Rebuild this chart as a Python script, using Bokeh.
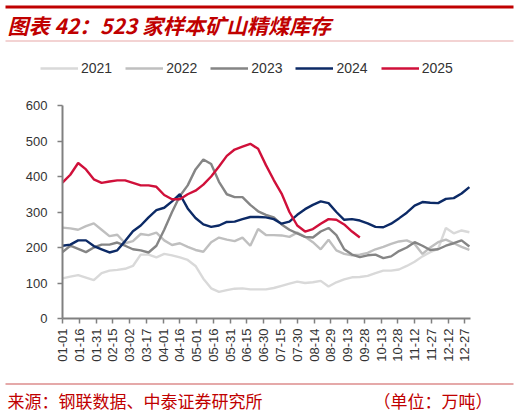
import numpy as np
from bokeh.plotting import figure
from bokeh.models import Range1d, FixedTicker, Legend, LegendItem
from bokeh.core.properties import value
from bokeh.layouts import column
from bokeh.embed import file_html
from bokeh.resources import INLINE

# weekly points, day of year
days = np.arange(1, 366, 7)

tick_days = list(range(1, 362, 15))
tick_labels = ['01-01', '01-16', '01-31', '02-15', '03-02', '03-17', '04-01',
               '04-16', '05-01', '05-16', '05-31', '06-15', '06-30', '07-15',
               '07-30', '08-14', '08-29', '09-13', '09-28', '10-13', '10-28',
               '11-12', '11-27', '12-12', '12-27']

y2021 = [113, 118, 122, 115, 108, 128, 135, 137, 140, 148,
         180, 180, 172, 182, 178, 172, 165, 148, 112, 85,
         75, 80, 84, 85, 82, 82, 82, 86, 92, 98,
         104, 100, 102, 106, 90, 102, 110, 116, 117, 120,
         128, 135, 135, 138, 148, 160, 175, 187, 196, 255,
         240, 248, 243]
y2022 = [256, 254, 250, 260, 268, 250, 232, 236, 212, 218,
         238, 235, 242, 220, 207, 212, 202, 193, 188, 215,
         228, 222, 218, 228, 205, 252, 235, 235, 234, 230,
         242, 230, 215, 195, 222, 192, 182, 178, 180, 185,
         195, 202, 210, 217, 220, 210, 182, 200, 215, 222,
         212, 202, 193]
y2023 = [187, 205, 196, 187, 200, 208, 208, 214, 205, 195,
         192, 186, 205, 250, 300, 345, 375, 420, 448, 435,
         385, 350, 342, 342, 320, 302, 292, 285, 265, 250,
         240, 230, 228, 245, 255, 235, 195, 180, 173, 178,
         180, 170, 175, 190, 200, 215, 205, 193, 195, 205,
         212, 220, 203]
y2024 = [205, 208, 220, 220, 204, 195, 186, 192, 218, 246,
         262, 285, 305, 312, 330, 350, 310, 283, 265, 258,
         262, 272, 273, 280, 286, 286, 285, 280, 267, 273,
         292, 308, 320, 330, 325, 300, 278, 280, 276, 268,
         258, 257, 267, 282, 298, 318, 328, 326, 325, 337,
         339, 352, 370]
y2025 = [383, 405, 438, 420, 392, 382, 386, 389, 389, 382,
         375, 375, 371, 348, 336, 336, 350, 360, 377, 400,
         428, 458, 476, 484, 492, 478, 432, 390, 352, 300,
         262, 245, 252, 267, 280, 278, 265, 245, 228]

years = ['2021', '2022', '2023', '2024', '2025']
series = [y2021, y2022, y2023, y2024, y2025]
colors = ['#D9D9D9', '#BFBFBF', '#858585', '#0C2A66', '#D0103A']

title = '图表 42：523 家样本矿山精煤库存'
source = '来源：钢联数据、中泰证券研究所'
unit = '（单位：万吨）'


def blank(h):
    f = figure(width=518, height=h, x_range=Range1d(0, 518), y_range=Range1d(h, 0),
               output_backend="svg", toolbar_location=None, frame_align=False,
               x_axis_location=None, y_axis_location=None,
               min_border=0, min_border_left=0, min_border_right=0,
               min_border_top=0, min_border_bottom=0)
    f.outline_line_color = None
    f.xgrid.grid_line_color = None
    f.ygrid.grid_line_color = None
    return f


# title block with legend
pt = blank(90)
pt.quad(left=5, right=513, top=5, bottom=8, fill_color='#C00000', line_color=None)
pt.quad(left=5, right=513, top=40, bottom=41, fill_color='#E8A8A8', line_color=None)
pt.text(x=[7], y=[24], text=[title], text_baseline='middle',
        text_font=value('Noto Sans CJK SC'), text_font_size='21px',
        text_font_style='bold italic', text_color='#C00000')

items = []
for name, c in zip(years, colors):
    # one-point stand-in, only used for the legend swatch
    r = pt.line([-10], [-10], line_color=c, line_width=2.6)
    items.append(LegendItem(label=name, renderers=[r]))
legend = Legend(items=items, orientation='horizontal', location=(40, 14),
                glyph_width=38, glyph_height=16, label_height=16, label_standoff=3,
                spacing=13, padding=0, margin=0, border_line_color=None,
                background_fill_alpha=0, label_text_font='Liberation Sans',
                label_text_font_size='14px', label_text_color='#333333')
pt.add_layout(legend)

# main chart
p = figure(width=518, height=288, x_range=Range1d(1, 366), y_range=Range1d(0, 600),
           output_backend="svg", toolbar_location=None, frame_align=False,
           min_border_left=62, min_border_right=48, min_border_top=15, min_border_bottom=60)
p.outline_line_color = None
p.xgrid.grid_line_color = None
p.ygrid.grid_line_color = None

for ys, c in zip(series, colors):
    p.line(days[:len(ys)], ys, line_color=c, line_width=2.4)

p.xaxis.ticker = FixedTicker(ticks=tick_days)
p.xaxis.major_label_overrides = dict(zip(tick_days, tick_labels))
p.xaxis.major_label_orientation = np.pi / 2
p.xaxis.major_label_standoff = 5
p.yaxis.ticker = FixedTicker(ticks=[0, 100, 200, 300, 400, 500, 600])
p.yaxis.major_label_standoff = 10
for ax in [p.xaxis, p.yaxis]:
    ax.axis_line_color = '#808080'
    ax.axis_line_width = 2
    ax.major_tick_line_color = '#808080'
    ax.major_tick_line_width = 1.5
    ax.major_tick_out = 5
    ax.major_tick_in = 0
    ax.minor_tick_line_color = None
    ax.major_label_text_font = 'Liberation Sans'
    ax.major_label_text_font_size = '13px'
    ax.major_label_text_color = '#333333'

# footer block
pf = blank(36)
pf.quad(left=5, right=513, top=5, bottom=6, fill_color='#CC5555', line_color=None)
pf.text(x=[7], y=[22], text=[source], text_baseline='middle',
        text_font=value('Noto Sans CJK SC'), text_font_size='17px', text_color='#C00000')
pf.text(x=[492], y=[22], text=[unit], text_baseline='middle', text_align='right',
        text_font=value('Noto Sans CJK SC'), text_font_size='17px', text_color='#C00000')

layout = column(pt, p, pf, spacing=0)

open("out.html", "w").write(file_html(layout, INLINE))
